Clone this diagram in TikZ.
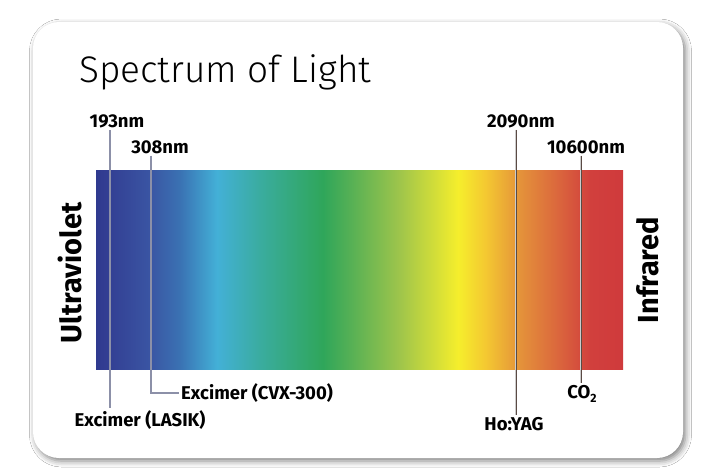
\documentclass[tikz,border=0pt]{standalone}
\usepackage{fontspec}
\setmainfont{Fira Sans}
\newfontfamily\lightfont{Fira Sans Light}
\usepackage{tikz}
\usetikzlibrary{shadows.blur}

\definecolor{uvdark}{HTML}{2F3A8F}
\definecolor{uvdeep}{HTML}{323D92}
\definecolor{violetblue}{HTML}{3A55A3}
\definecolor{midblue}{HTML}{3A72B3}
\definecolor{cyanblue}{HTML}{43B0D7}
\definecolor{teal}{HTML}{3AAC9F}
\definecolor{green}{HTML}{2FA65A}
\definecolor{leafgreen}{HTML}{55B055}
\definecolor{limegreen}{HTML}{9FC54B}
\definecolor{yellow}{HTML}{F5EE2C}
\definecolor{amber}{HTML}{F4C931}
\definecolor{orange}{HTML}{E4923A}
\definecolor{redorange}{HTML}{DA643D}
\definecolor{red}{HTML}{D1403D}
\definecolor{irred}{HTML}{CF3A3C}
\definecolor{tickgray}{HTML}{8C90A8}
\definecolor{tickdark}{HTML}{5A4A44}

\pgfdeclarehorizontalshading{lightspectrum}{100bp}{%
  color(0bp)=(uvdark); color(25bp)=(uvdark); color(25.85bp)=(uvdeep);
  color(30.12bp)=(violetblue); color(32.97bp)=(midblue);
  color(36.48bp)=(cyanblue); color(40.56bp)=(teal);
  color(46.54bp)=(green); color(49.10bp)=(leafgreen);
  color(53.84bp)=(limegreen); color(59.35bp)=(yellow);
  color(61.91bp)=(amber); color(65.23bp)=(orange);
  color(69.02bp)=(redorange); color(71.87bp)=(red);
  color(75bp)=(irred); color(100bp)=(irred)}

\begin{document}
\begin{tikzpicture}[x=1pt,y=-1pt,
    lbl/.style={font=\bfseries\fontsize{18.5}{21}\selectfont,inner sep=2pt},
    side/.style={font=\bfseries\fontsize{29}{32}\selectfont,rotate=90},
    tickuv/.style={draw=tickgray,line width=1.6pt},
    tickir/.style={draw=white!80!black,double=tickdark,double distance=0.7pt,line width=0.5pt}]
    \useasboundingbox (0,0) rectangle (710,472);
    \fill[white] (0,0) rectangle (710,472);
    \fill[white,rounded corners=26pt,
        blur shadow={shadow xshift=2.5pt,shadow yshift=-3pt,shadow blur radius=6pt,shadow opacity=50}]
        (33,22) rectangle (683,458);
    \node[anchor=base west,inner sep=0pt,font=\lightfont\fontsize{37}{42}\selectfont] (title) at (79,82) {Spectrum of Light};
    \shade[shading=lightspectrum] (96,170) rectangle (623,369);
    \node[side] (uv) at (70,273) {Ultraviolet};
    \node[side] (ir) at (648,270) {Infrared};
    \coordinate (x193) at (110,0);
    \coordinate (x308) at (151,0);
    \coordinate (x2090) at (516,0);
    \coordinate (x10600) at (581,0);
    \node[lbl] (nm193) at (117,121) {193nm};
    \node[lbl] (nm308) at (160,147) {308nm};
    \node[lbl] (nm2090) at (521,121) {2090nm};
    \node[lbl] (nm10600) at (586,147) {10600nm};
    \node[lbl] (lasik) at (140,420) {Excimer (LASIK)};
    \node[lbl,anchor=west] (cvx) at (179,393) {Excimer (CVX-300)};
    \node[lbl] (hoyag) at (514,424) {Ho:YAG};
    \node[lbl] (co2) at (582,394) {CO\raisebox{-0.4ex}{\fontsize{12}{12}\selectfont 2}};
    \draw[tickuv] (nm193.south -| x193) -- (lasik.north -| x193);
    \draw[tickuv] (nm308.south -| x308) |- (cvx.west);
    \draw[tickir] (nm2090.south -| x2090) -- (hoyag.north -| x2090);
    \draw[tickir] (nm10600.south -| x10600) -- (co2.north -| x10600);
\end{tikzpicture}
\end{document}
